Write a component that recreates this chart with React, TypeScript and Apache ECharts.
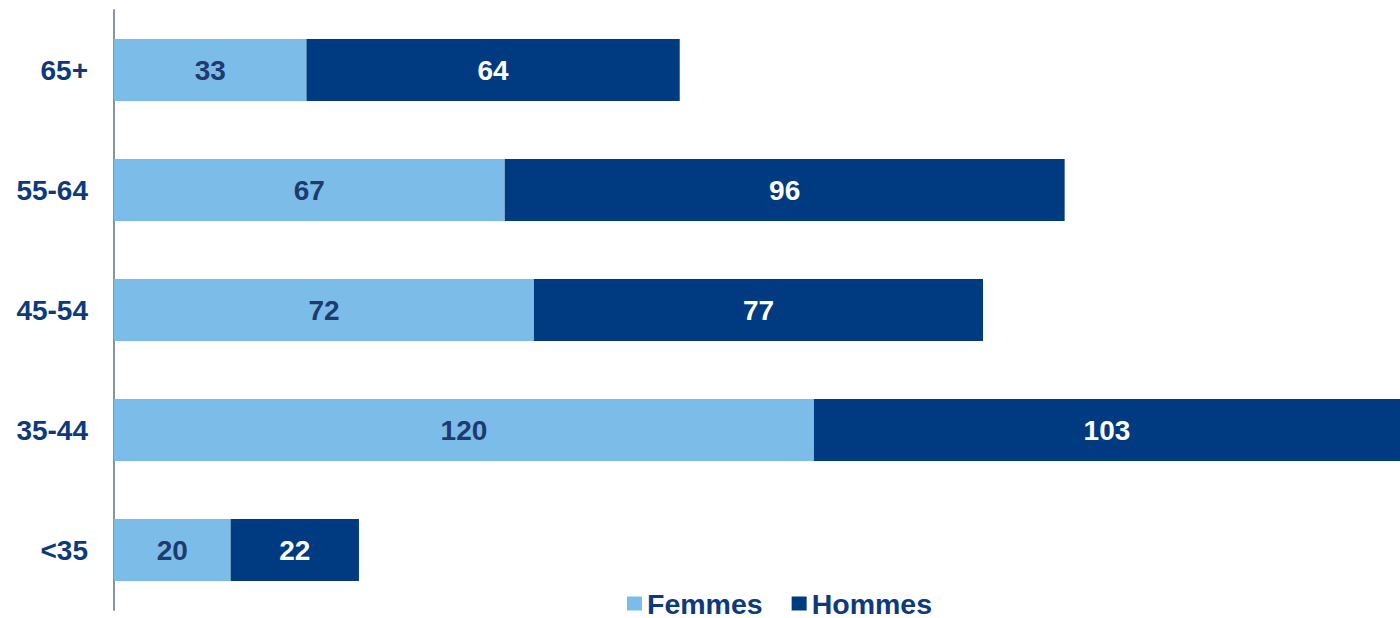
import React, { useEffect, useRef } from "react";
import * as echarts from "echarts";

const categories = ["<35", "35-44", "45-54", "55-64", "65+"];
const femmes = [20, 120, 72, 67, 33];
const hommes = [22, 103, 77, 96, 64];

export default function App() {
  const ref = useRef<HTMLDivElement>(null);
  useEffect(() => {
    if (!ref.current) return;
    const chart = echarts.init(ref.current, null, { renderer: "svg" });
    const font = "'Liberation Sans', Arial, sans-serif";
    chart.setOption({
      animation: false,
      grid: { left: 114, top: 10, height: 600, right: 0, containLabel: false },
      xAxis: {
        type: "value",
        min: 0,
        max: 220.5,
        show: false,
      },
      yAxis: {
        type: "category",
        data: categories,
        axisLine: { show: true, lineStyle: { color: "#8a90ac", width: 2 } },
        axisTick: { show: false },
        axisLabel: {
          margin: 26,
          color: "#0d3a7c",
          fontSize: 28,
          fontWeight: "bold",
          fontFamily: font,
        },
      },
      legend: {
        left: 627,
        top: 589,
        padding: 0,
        itemWidth: 15,
        itemHeight: 14,
        itemGap: 29,
        icon: "rect",
        textStyle: {
          color: "#0d3a7c",
          fontSize: 28.5,
          lineHeight: 24,
          fontWeight: "bold",
          fontFamily: font,
        },
        data: ["Femmes", "Hommes"],
      },
      series: [
        {
          name: "Femmes",
          type: "bar",
          stack: "total",
          data: femmes,
          barWidth: 62,
          clip: true,
          itemStyle: { color: "#7bbce8" },
          label: {
            show: true,
            position: "inside",
            color: "#1e3a6e",
            fontSize: 28,
            fontWeight: "bold",
            fontFamily: font,
          },
        },
        {
          name: "Hommes",
          type: "bar",
          stack: "total",
          data: hommes,
          barWidth: 62,
          clip: true,
          itemStyle: { color: "#003a80" },
          label: {
            show: true,
            position: "inside",
            color: "#ffffff",
            fontSize: 28,
            fontWeight: "bold",
            fontFamily: font,
          },
        },
      ],
    });
    return () => chart.dispose();
  }, []);
  return (
    <div
      ref={ref}
      style={{ position: "fixed", left: 0, top: 0, width: 1400, height: 618, background: "#fff" }}
    />
  );
}
